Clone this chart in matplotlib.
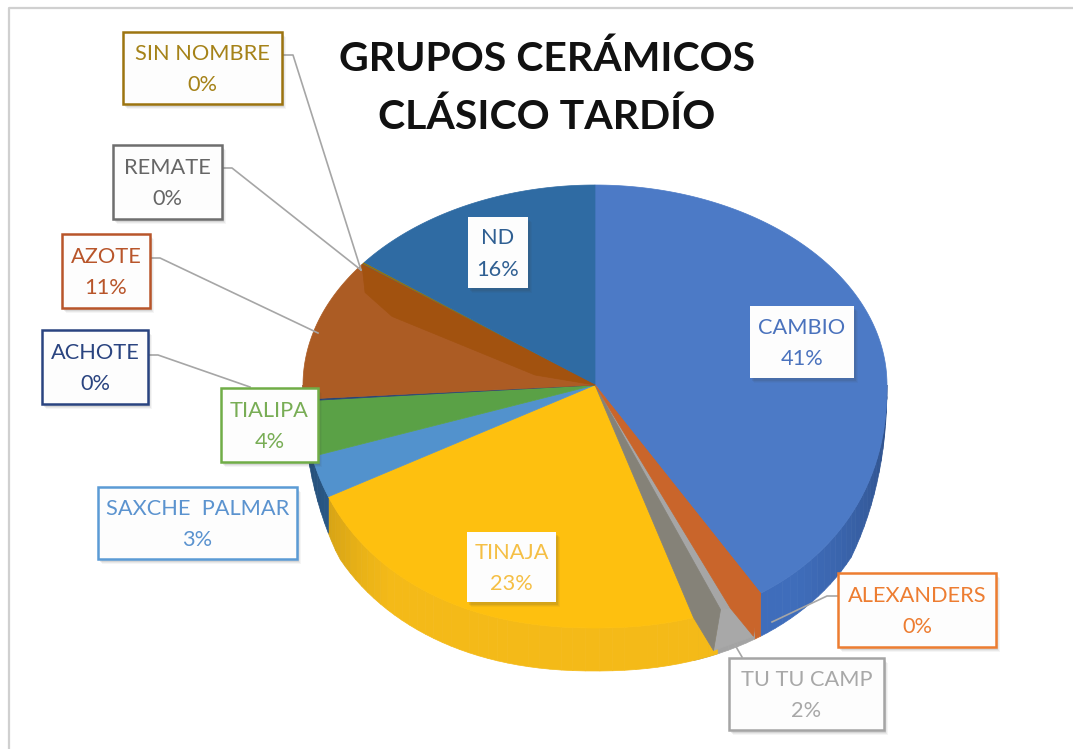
import numpy as np
import matplotlib
matplotlib.use("Agg")
import matplotlib.pyplot as plt
from matplotlib.colors import to_rgb
from matplotlib.patches import Polygon, Rectangle

plt.rcParams['font.family'] = ['Lato', 'DejaVu Sans']

# datos del grafico
grupos = ['CAMBIO', 'ALEXANDERS', 'TU TU CAMP', 'TINAJA', 'SAXCHE  PALMAR', 'TIALIPA',
          'ACHOTE', 'AZOTE', 'REMATE', 'SIN NOMBRE', 'ND']
porcentajes = [41, 0, 2, 23, 3, 4, 0, 11, 0, 0, 16]
# sectores tal como se ven en el dibujo
sectores = [41.0, 0.4, 3.7, 22.9, 2.8, 3.4, 0.1, 11.0, 0.1, 0.1, 14.5]

titulo = 'GRUPOS CERÁMICOS\nCLÁSICO TARDÍO'

colores = ['#4c7ac6', '#c9652b', '#a6a6a6', '#fec00f', '#5292cd', '#5aa146',
           '#264478', '#ac5c24', '#636363', '#997300', '#2f6ba3']
laterales = ['#3f6dbb', '#c9652b', '#a3a3a3', '#f4ba18', '#2f6499', '#2f6499',
             '#264478', '#ac5c24', '#636363', '#997300', '#2f6ba3']

# cajas de las etiquetas: izquierda, arriba, derecha, abajo
cajas = [(750, 306, 854, 378), (838, 573, 996, 647), (729, 658, 884, 730),
         (467, 532, 556, 602), (98, 487, 297, 559), (221, 388, 318, 462),
         (42, 330, 148, 404), (62, 234, 150, 308), (113, 145, 222, 219),
         (123, 32, 282, 104), (468, 217, 528, 288)]
bordes = [None, '#ed7d31', '#a5a5a5', None, '#5b9bd5', '#70ad47',
          '#2a4480', '#b8552a', '#6e6e6e', '#9c7410', None]
textos = ['#4a72bd', '#ed7d31', '#a8a8a8', '#f5bf45', '#5b93cf', '#78ad55',
          '#2a4480', '#b8552a', '#666666', '#a58218', '#2f5f92']

# lineas guia: (grupo, puntos x, puntos y)
guias = [('ALEXANDERS', [838, 827, 772], [596, 596, 622]),
         ('TU TU CAMP', [742, 735], [657, 645]),
         ('ACHOTE', [148, 158, 250], [355, 355, 387]),
         ('AZOTE', [150, 160, 318], [258, 258, 333]),
         ('REMATE', [222, 232, 361], [168, 168, 270]),
         ('SIN NOMBRE', [282, 293, 361], [55, 55, 270])]

# geometria del pastel
cx, cy = 595, 385
rx, ry_arriba, ry_abajo = 292, 200, 243
grosor = 43


def borde(angulo):
    # angulo en grados, en sentido horario desde las 12
    a = np.radians(angulo)
    s, c = np.sin(a), np.cos(a)
    # la mitad de abajo es algo mas llena que una elipse
    p = np.where(c > 0, 1.0, 0.91)
    ry = np.where(c > 0, ry_arriba, ry_abajo)
    return cx + rx * np.sign(s) * np.abs(s) ** p, cy - ry * np.sign(c) * np.abs(c) ** p


def alto_pared(angulo):
    c = np.abs(np.cos(np.radians(angulo)))
    return grosor * np.minimum(1, c / 0.5)


def arco(a0, a1):
    n = max(int(abs(a1 - a0)), 1) + 1
    x, y = borde(np.linspace(a0, a1, n))
    return np.column_stack([x, y])


def poligono(ax, puntos, color, z):
    ax.add_patch(Polygon(puntos, closed=True, facecolor=color, edgecolor=color, linewidth=0.5, zorder=z))


fig = plt.figure(figsize=(10.73, 7.49), dpi=100)
ax = fig.add_axes([0, 0, 1, 1])
ax.set_xlim(0, 1073)
ax.set_ylim(749, 0)
ax.axis('off')

# marco de la captura
ax.plot([9, 9, 1073], [749, 8, 8], color='#d0d0d0', linewidth=1.6, zorder=1)

limites = np.concatenate([[0], np.cumsum(sectores)]) * 3.6
inicio_tinaja = limites[3]

# paredes laterales, por tiras para oscurecer hacia los lados
for i in range(len(sectores)):
    a0, a1 = limites[i], limites[i + 1]
    if i == 3:
        a0 = a0 - 5
    a0, a1 = max(a0, 90), min(a1, 270)
    if a1 <= a0:
        continue
    pasos = np.arange(a0, a1, 2.0)
    for p in pasos:
        q = min(p + 2.0, a1)
        xa, ya = borde(np.array([p, q]))
        altos = alto_pared(np.array([p, q]))
        puntos = [[xa[0], ya[0]], [xa[1], ya[1]], [xa[1], ya[1] + altos[1]], [xa[0], ya[0] + altos[0]]]
        luz = 0.70 + 0.30 * min(1, abs(np.cos(np.radians(p))) / 0.75)
        poligono(ax, puntos, tuple(v * luz for v in to_rgb(laterales[i])), 2)

# caras superiores
for i in range(len(sectores)):
    puntos = np.vstack([[cx, cy], arco(limites[i], limites[i + 1])])
    poligono(ax, puntos, colores[i], 3)

# banda oscura del sector AZOTE
fin_azote = limites[8]
x_az, y_az = borde(fin_azote)
poligono(ax, [[cx, cy], [x_az, y_az], [x_az + 3, y_az + 28], [x_az + 30, y_az + 52], [cx - 60, cy - 10]], '#a2520f', 4)

# cortes interiores junto a CAMBIO
x1, y1 = borde(limites[1])
x3, y3 = borde(inicio_tinaja)
poligono(ax, [[x3 + 27, y3 - 8], [x3 + 20, y3 + 33], [x1 - 7, y1 + 43], [x1 - 30, y1 + 15]], '#a8a8a8', 5)
poligono(ax, [[cx, cy], [x3, y3], [x3 + 20, y3 + 33], [x3 + 27, y3 - 8]], '#858278', 6)
poligono(ax, [[cx, cy], [x1, y1], [x1 - 7, y1 + 43], [x1 - 30, y1 + 15]], '#c9652b', 7)

# lineas guia
for grupo, xs, ys in guias:
    ax.plot(xs, ys, color='#a6a6a6', linewidth=1.2, zorder=8)

# etiquetas
for i in range(len(grupos)):
    izq, sup, der, inf = cajas[i]
    ancho, alto = der - izq, inf - sup
    for d, alfa in [(5, 0.05), (4, 0.07), (3, 0.10)]:
        ax.add_patch(Rectangle((izq + d - 1, sup + d), ancho, alto, facecolor='#404040',
                               edgecolor='none', alpha=alfa, zorder=9))
    ax.add_patch(Rectangle((izq, sup), ancho, alto, facecolor='#fdfdfd',
                           edgecolor=bordes[i] if bordes[i] else 'none', linewidth=1.8, zorder=10))
    ax.text((izq + der) / 2, (sup + inf) / 2 + 1.5, f'{grupos[i]}\n{porcentajes[i]}%', color=textos[i],
            fontsize=15.7, ha='center', va='center', linespacing=1.72, zorder=11)

# titulo
ax.text(547, 88, titulo, fontsize=29.5, fontweight='bold', color='#111111',
        ha='center', va='center', linespacing=1.68, zorder=11)

fig.savefig('out.png', dpi=100)
